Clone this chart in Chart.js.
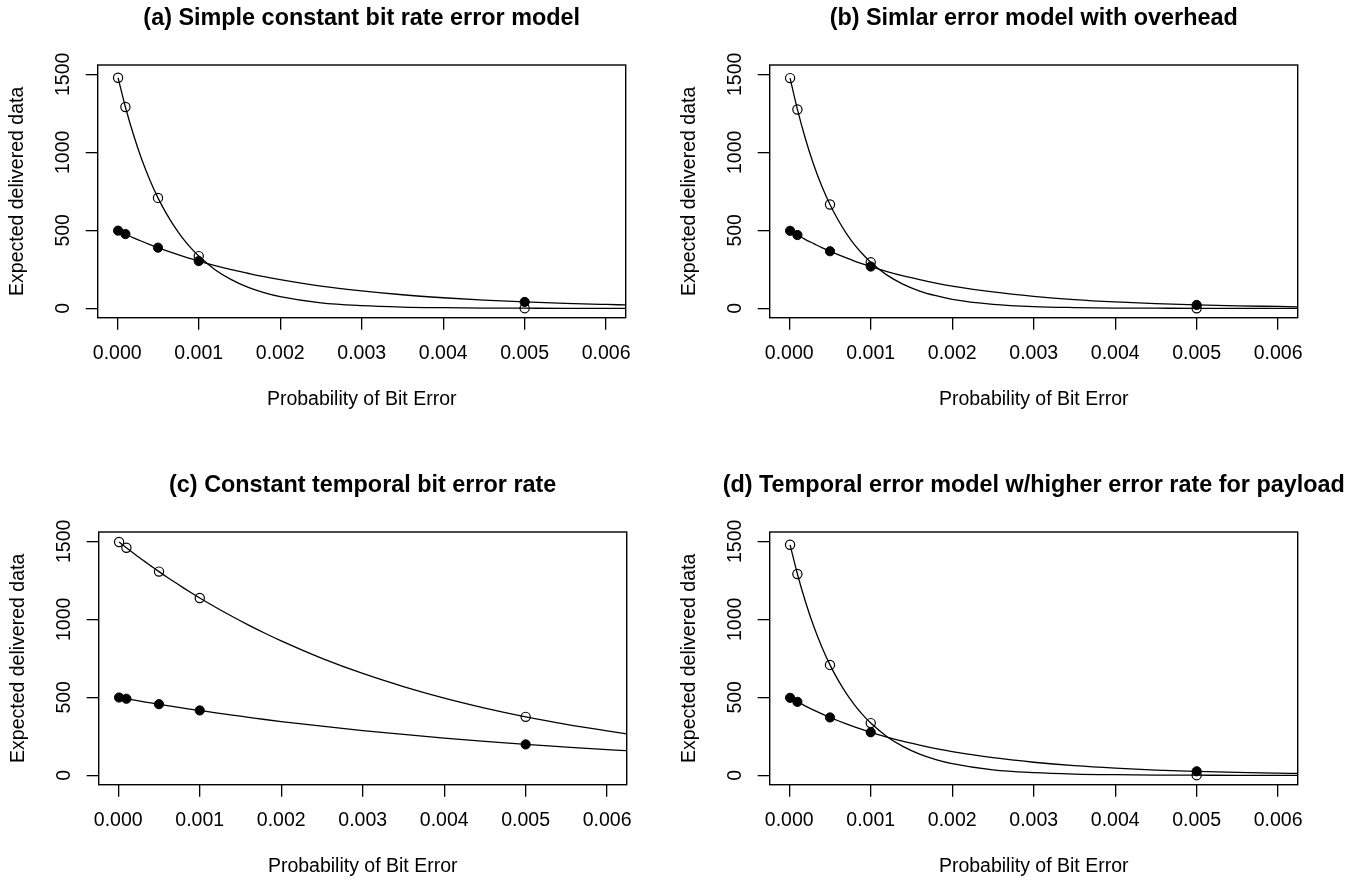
<!DOCTYPE html>
<html>
<head>
<meta charset="utf-8">
<title>Expected delivered data vs probability of bit error</title>
<script src="https://cdn.jsdelivr.net/npm/chart.js@4.4.1/dist/chart.umd.min.js"></script>
<style>
  html, body { margin: 0; padding: 0; background: #fff; }
  body { position: relative; width: 1360px; height: 880px; overflow: hidden; }
  canvas { position: absolute; }
  #panelA { left: 0px; top: 0px; }
  #panelB { left: 672px; top: 0px; }
  #panelC { left: 1px; top: 467px; }
  #panelD { left: 672px; top: 467px; }
</style>
</head>
<body>
<canvas id="panelA" width="680" height="411"></canvas>
<canvas id="panelB" width="680" height="411"></canvas>
<canvas id="panelC" width="680" height="411"></canvas>
<canvas id="panelD" width="680" height="411"></canvas>
<script>
// bit error probabilities of the plotted points
const pointX = [0.00001, 0.0001, 0.0005, 0.001, 0.005];
// x positions used for the smooth curves
const curveX = [0.00001, 0.0001, 0.0002, 0.0003, 0.0004, 0.0005, 0.0006, 0.0007, 0.0008, 0.0009,
                0.001, 0.0012, 0.0014, 0.0016, 0.0018, 0.002, 0.0025, 0.003, 0.0035, 0.004,
                0.0045, 0.005, 0.0055, 0.006, 0.00624];

const xTicks = [0, 0.001, 0.002, 0.003, 0.004, 0.005, 0.006];
const xTickLabels = ['0.000', '0.001', '0.002', '0.003', '0.004', '0.005', '0.006'];
const yTicks = [0, 500, 1000, 1500];
const yTickLabels = ['0', '500', '1000', '1500'];

const panelTitles = [
  '(a) Simple constant bit rate error model',
  '(b) Simlar error model with overhead',
  '(c) Constant temporal bit error rate',
  '(d) Temporal error model w/higher error rate for payload'
];
const xTitle = 'Probability of Bit Error';
const yTitle = 'Expected delivered data';

// (a) 1500 byte packets (open) and 500 byte packets (filled)
const aOpenPts = [1478, 1291, 708, 335, 1];
const aFilledPts = [498, 476, 389, 303, 41];
const aOpenCurve = [1478, 1291, 1111, 956, 823, 708, 610, 525, 452, 389, 335, 248, 184, 136, 101, 75, 35, 17, 8, 4, 2, 1, 0, 0, 0];
const aFilledCurve = [498, 476, 452, 430, 409, 389, 370, 352, 335, 319, 303, 274, 248, 225, 203, 184, 143, 112, 87, 68, 53, 41, 32, 25, 22];

// (b)
const bOpenPts = [1476, 1275, 666, 295, 0];
const bFilledPts = [497, 470, 366, 268, 22];
const bOpenCurve = [1476, 1275, 1084, 921, 783, 666, 566, 481, 409, 348, 295, 213, 154, 111, 81, 58, 26, 11, 5, 2, 1, 0, 0, 0, 0];
const bFilledCurve = [497, 470, 441, 415, 389, 366, 344, 323, 303, 285, 268, 236, 208, 184, 162, 143, 105, 77, 56, 41, 30, 22, 16, 12, 10];

// (c)
const cOpenPts = [1496, 1459, 1306, 1137, 375];
const cFilledPts = [499, 491, 456, 416, 198];
const cOpenCurve = [1496, 1459, 1419, 1380, 1343, 1306, 1270, 1236, 1202, 1169, 1137, 1076, 1018, 963, 911, 862, 750, 653, 569, 495, 431, 375, 327, 285, 266];
const cFilledCurve = [499, 491, 482, 473, 464, 456, 447, 439, 431, 423, 416, 400, 386, 372, 358, 345, 315, 287, 262, 239, 218, 198, 181, 165, 158];

// (d)
const dOpenPts = [1478, 1291, 708, 335, 1];
const dFilledPts = [497, 471, 371, 276, 26];
const dOpenCurve = [1478, 1291, 1111, 956, 823, 708, 610, 525, 452, 389, 335, 248, 184, 136, 101, 75, 35, 17, 8, 4, 2, 1, 0, 0, 0];
const dFilledCurve = [497, 471, 444, 418, 394, 371, 350, 330, 311, 293, 276, 245, 217, 193, 171, 152, 113, 84, 62, 46, 34, 26, 19, 14, 12];

const fontFamily = '"Liberation Sans", Arial, Helvetica, sans-serif';
Chart.defaults.font.family = fontFamily;
Chart.defaults.color = '#000';

const toXY = (xs, ys) => xs.map((x, i) => ({ x: x, y: ys[i] }));

// title centred over the plot region
const panelTitle = {
  id: 'panelTitle',
  afterDraw(chart, args, opts) {
    const { ctx, chartArea } = chart;
    ctx.save();
    ctx.font = 'bold 23.4px ' + fontFamily;
    ctx.fillStyle = '#000';
    ctx.textAlign = 'center';
    ctx.textBaseline = 'middle';
    ctx.fillText(opts.text, (chartArea.left + chartArea.right) / 2, chartArea.top - 46);
    ctx.restore();
  }
};

// box round the plot region
const plotBox = {
  id: 'plotBox',
  beforeDatasetsDraw(chart) {
    const { ctx, chartArea } = chart;
    ctx.save();
    ctx.strokeStyle = '#000';
    ctx.lineWidth = 1.4;
    ctx.strokeRect(chartArea.left, chartArea.top, chartArea.right - chartArea.left, chartArea.bottom - chartArea.top);
    ctx.restore();
  }
};

function makePanel(id, title, openPts, filledPts, openCurve, filledCurve) {
  const ctx = document.getElementById(id).getContext('2d');
  return new Chart(ctx, {
    type: 'scatter',
    data: {
      datasets: [
        {
          data: toXY(pointX, openPts),
          showLine: false,
          pointStyle: 'circle',
          pointRadius: 4.6,
          pointBorderWidth: 1.2,
          pointBorderColor: '#000',
          pointBackgroundColor: 'rgba(0,0,0,0)',
          order: 0
        },
        {
          data: toXY(pointX, filledPts),
          showLine: false,
          pointStyle: 'circle',
          pointRadius: 4.6,
          pointBorderWidth: 1,
          pointBorderColor: '#000',
          pointBackgroundColor: '#000',
          order: 0
        },
        {
          data: toXY(curveX, openCurve),
          showLine: true,
          pointRadius: 0,
          borderColor: '#000',
          borderWidth: 1.3,
          cubicInterpolationMode: 'monotone',
          order: 1
        },
        {
          data: toXY(curveX, filledCurve),
          showLine: true,
          pointRadius: 0,
          borderColor: '#000',
          borderWidth: 1.3,
          cubicInterpolationMode: 'monotone',
          order: 1
        }
      ]
    },
    options: {
      responsive: false,
      animation: false,
      devicePixelRatio: 1,
      events: [],
      layout: { padding: { top: 65, right: 54.3, bottom: 0, left: 0 } },
      plugins: {
        legend: { display: false },
        tooltip: { enabled: false },
        panelTitle: { text: title }
      },
      scales: {
        x: {
          type: 'linear',
          min: -0.00024,
          max: 0.00624,
          afterBuildTicks: scale => { scale.ticks = xTicks.map(v => ({ value: v })); },
          afterFit: scale => { scale.height = 93.3; },
          border: { display: false },
          grid: { drawOnChartArea: false, tickLength: 12, color: '#000', lineWidth: 1.3 },
          ticks: {
            autoSkip: false,
            maxRotation: 0,
            padding: 12,
            font: { size: 19.5 },
            callback: (v, i) => xTickLabels[i]
          },
          title: { display: true, text: xTitle, font: { size: 19.5 }, padding: { top: 0, bottom: 0 } }
        },
        y: {
          type: 'linear',
          min: -60,
          max: 1560,
          afterBuildTicks: scale => { scale.ticks = yTicks.map(v => ({ value: v })); },
          afterFit: scale => { scale.width = 97.7; },
          border: { display: false },
          grid: { drawOnChartArea: false, tickLength: 12, color: '#000', lineWidth: 1.3 },
          ticks: {
            minRotation: 90,
            maxRotation: 90,
            crossAlign: 'center',
            padding: 0,
            font: { size: 19.5 },
            callback: (v, i) => yTickLabels[i]
          },
          title: { display: true, text: yTitle, font: { size: 19.5 }, padding: { top: 5.8, bottom: 0 } }
        }
      }
    },
    plugins: [panelTitle, plotBox]
  });
}

makePanel('panelA', panelTitles[0], aOpenPts, aFilledPts, aOpenCurve, aFilledCurve);
makePanel('panelB', panelTitles[1], bOpenPts, bFilledPts, bOpenCurve, bFilledCurve);
makePanel('panelC', panelTitles[2], cOpenPts, cFilledPts, cOpenCurve, cFilledCurve);
makePanel('panelD', panelTitles[3], dOpenPts, dFilledPts, dOpenCurve, dFilledCurve);
</script>
</body>
</html>
